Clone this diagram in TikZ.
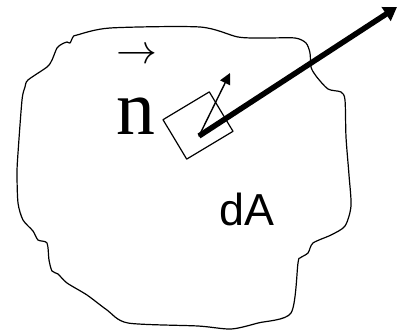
\documentclass[tikz,border=0pt]{standalone}
\usepackage{fontspec}
\usepackage{xcolor}
\usepackage{tikz}
\usetikzlibrary{arrows.meta}
\newfontfamily\fdserif{Liberation Serif}
\newfontfamily\fdsans{Liberation Sans}
\definecolor{fdInk}{HTML}{000000}
\tikzset{
  fd diagram/.style={x=1bp,y=-1bp,line cap=round,line join=round,
    draw=fdInk,text=fdInk},
  fd outline/.style={draw=fdInk,line width=1.2bp},
  fd patch/.style={draw=fdInk,line width=1.2bp,rectangle,inner sep=0pt,
    minimum width=54bp,minimum height=46bp},
  fd normal/.style={-{Triangle[length=11bp,width=11bp]},draw=fdInk,
    line width=1.4bp},
  fd ray/.style={-{Triangle[length=13bp,width=16bp]},draw=fdInk,
    line width=5.5bp,line cap=butt},
  fd label/.style={inner sep=0pt,anchor=base}
}

\begin{document}
\begin{tikzpicture}[fd diagram]
\useasboundingbox (0,0) rectangle (398,333);
\draw[fd outline] plot[smooth cycle,tension=0.45] coordinates {
  (77,35) (110,28) (200,27) (238,37) (265,38) (295,38) (306,43) (310,53)
  (311,67) (316,76) (328,89) (341,92) (345,100) (346,137) (349,175)
  (351,206) (345,226) (331,235) (313,243) (308,253) (300,258) (298,263)
  (291,313) (258,323) (231,329) (198,326) (128,323) (107,310) (87,295)
  (67,283) (58,274) (52,271) (49,260) (47,243) (38,240) (33,231) (23,220)
  (18,203) (17,173) (18,153) (22,100) (25,87) (28,80) (47,67) (52,60)
  (57,48) (62,44) (67,42) (70,43) (73,37)};
\node[fd patch,rotate=31] (patch) at (198,125.5) {};
\node[fd label] (nlabel) at (135.5,134) {\fdserif\fontsize{78}{78}\selectfont n};
\node[inner sep=0pt] (nvec) at (137,56) {\scalebox{4.1}{$\rightarrow$}};
\node[fd label] (dA) at (247,225) {\fdsans\fontsize{45}{45}\selectfont dA};
\coordinate (base) at (199,136);
\coordinate (normaltip) at (230,73);
\coordinate (raytip) at (397,7);
\draw[fd normal] (base) -- (normaltip);
\draw[fd ray] (base) -- (raytip);
\end{tikzpicture}
\end{document}
